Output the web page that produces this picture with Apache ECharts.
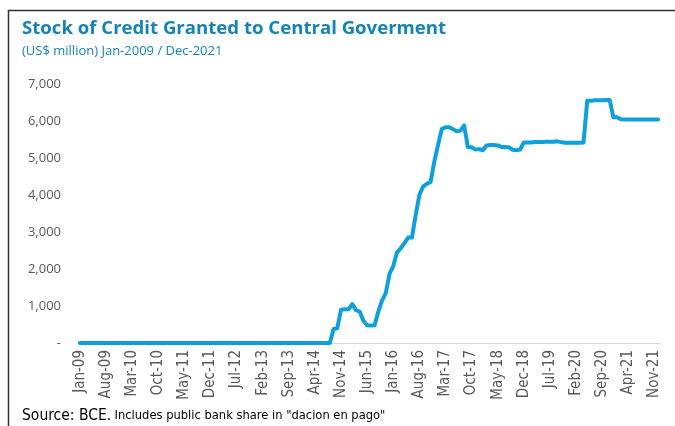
<!DOCTYPE html>
<html>
<head>
<meta charset="utf-8">
<script src="https://cdn.jsdelivr.net/npm/echarts@6/dist/echarts.min.js"></script>
<style>
html,body{margin:0;padding:0;background:#fff;}
#chart{width:675px;height:426px;}
</style>
</head>
<body>
<div id="chart"></div>
<script>
// Month labels Jan-09 .. Dec-21
var monthNames = ['Jan','Feb','Mar','Apr','May','Jun','Jul','Aug','Sep','Oct','Nov','Dec'];
var years = ['09','10','11','12','13','14','15','16','17','18','19','20','21'];
var categories = [];
years.forEach(function(y){ monthNames.forEach(function(m){ categories.push(m + '-' + y); }); });

// Stock of credit (US$ million)
var values2009_2013 = [
  0,0,0,0,0,0,0,0,0,0,0,0,
  0,0,0,0,0,0,0,0,0,0,0,0,
  0,0,0,0,0,0,0,0,0,0,0,0,
  0,0,0,0,0,0,0,0,0,0,0,0,
  0,0,0,0,0,0,0,0,0,0,0,0
];
var values2014 = [0,0,0,0,0,0,0,0,380,400,900,910];
var values2015 = [910,1050,890,850,600,480,470,480,850,1150,1350,1870];
var values2016 = [2080,2450,2560,2700,2850,2850,3450,4000,4230,4300,4350,4900];
var values2017 = [5350,5780,5830,5830,5780,5720,5740,5880,5300,5290,5230,5240];
var values2018 = [5210,5340,5350,5350,5340,5300,5300,5290,5220,5210,5230,5420];
var values2019 = [5420,5420,5430,5430,5430,5440,5440,5440,5450,5430,5410,5410];
var values2020 = [5410,5410,5410,5420,6550,6550,6560,6560,6560,6570,6570,6100];
var values2021 = [6100,6050,6040,6040,6040,6040,6040,6040,6040,6040,6040,6040];
var values = [].concat(values2009_2013, values2014, values2015, values2016, values2017,
                       values2018, values2019, values2020, values2021);

var yTicks = [0,1000,2000,3000,4000,5000,6000,7000];

var blue = '#1483b8';
var narrow = "'Liberation Sans Narrow', 'DejaVu Sans Condensed', 'Liberation Sans', sans-serif";
var chart = echarts.init(document.getElementById('chart'));
chart.setOption({
  animation: false,
  backgroundColor: '#ffffff',
  title: [{
    text: 'Stock of Credit Granted to Central Goverment',
    left: 17, top: 14,
    textStyle: {fontFamily: 'Open Sans', fontWeight: 'bold', fontSize: 18.6, color: blue}
  },{
    text: '(US$ million) Jan-2009 / Dec-2021',
    left: 17, top: 40,
    textStyle: {fontFamily: 'Open Sans', fontWeight: 'normal', fontSize: 13, color: blue}
  }],
  graphic: [{
    type: 'rect', silent: true,
    shape: {x: 8.5, y: 10.5, width: 700, height: 450},
    style: {fill: 'none', stroke: '#333333', lineWidth: 1.5}
  },{
    type: 'text', left: 22, top: 408,
    style: {
      text: '{a|Source: BCE.} {b|Includes public bank share in "dacion en pago"}',
      rich: {
        a: {fontFamily: narrow, fontSize: 15.5, fill: '#000'},
        b: {fontFamily: narrow, fontSize: 12.8, fill: '#000'}
      }
    }
  }],
  grid: {left: 78, right: 15, top: 84, bottom: 83, containLabel: false},
  xAxis: {
    type: 'category',
    data: categories,
    boundaryGap: true,
    axisLine: {lineStyle: {color: '#d9d9d9', width: 1}},
    axisTick: {interval: 6, length: 5, lineStyle: {color: '#d9d9d9'}},
    axisLabel: {
      interval: 6, rotate: 90, margin: 7,
      fontFamily: narrow, fontSize: 15, color: '#595959'
    },
    splitLine: {show: false}
  },
  yAxis: {
    type: 'value',
    min: yTicks[0], max: yTicks[yTicks.length - 1], interval: 1000,
    axisLine: {show: false},
    axisTick: {show: false},
    splitLine: {show: false},
    axisLabel: {
      margin: 17,
      fontFamily: 'Open Sans', fontSize: 13, color: '#595959',
      formatter: function(v){ return v === 0 ? '-' : v.toLocaleString('en-US'); }
    }
  },
  series: [{
    type: 'line',
    data: values,
    showSymbol: false,
    symbol: 'none',
    lineStyle: {color: '#0da0dd', width: 4, cap: 'round', join: 'round'},
    itemStyle: {color: '#0da0dd'}
  }]
});
</script>
</body>
</html>
